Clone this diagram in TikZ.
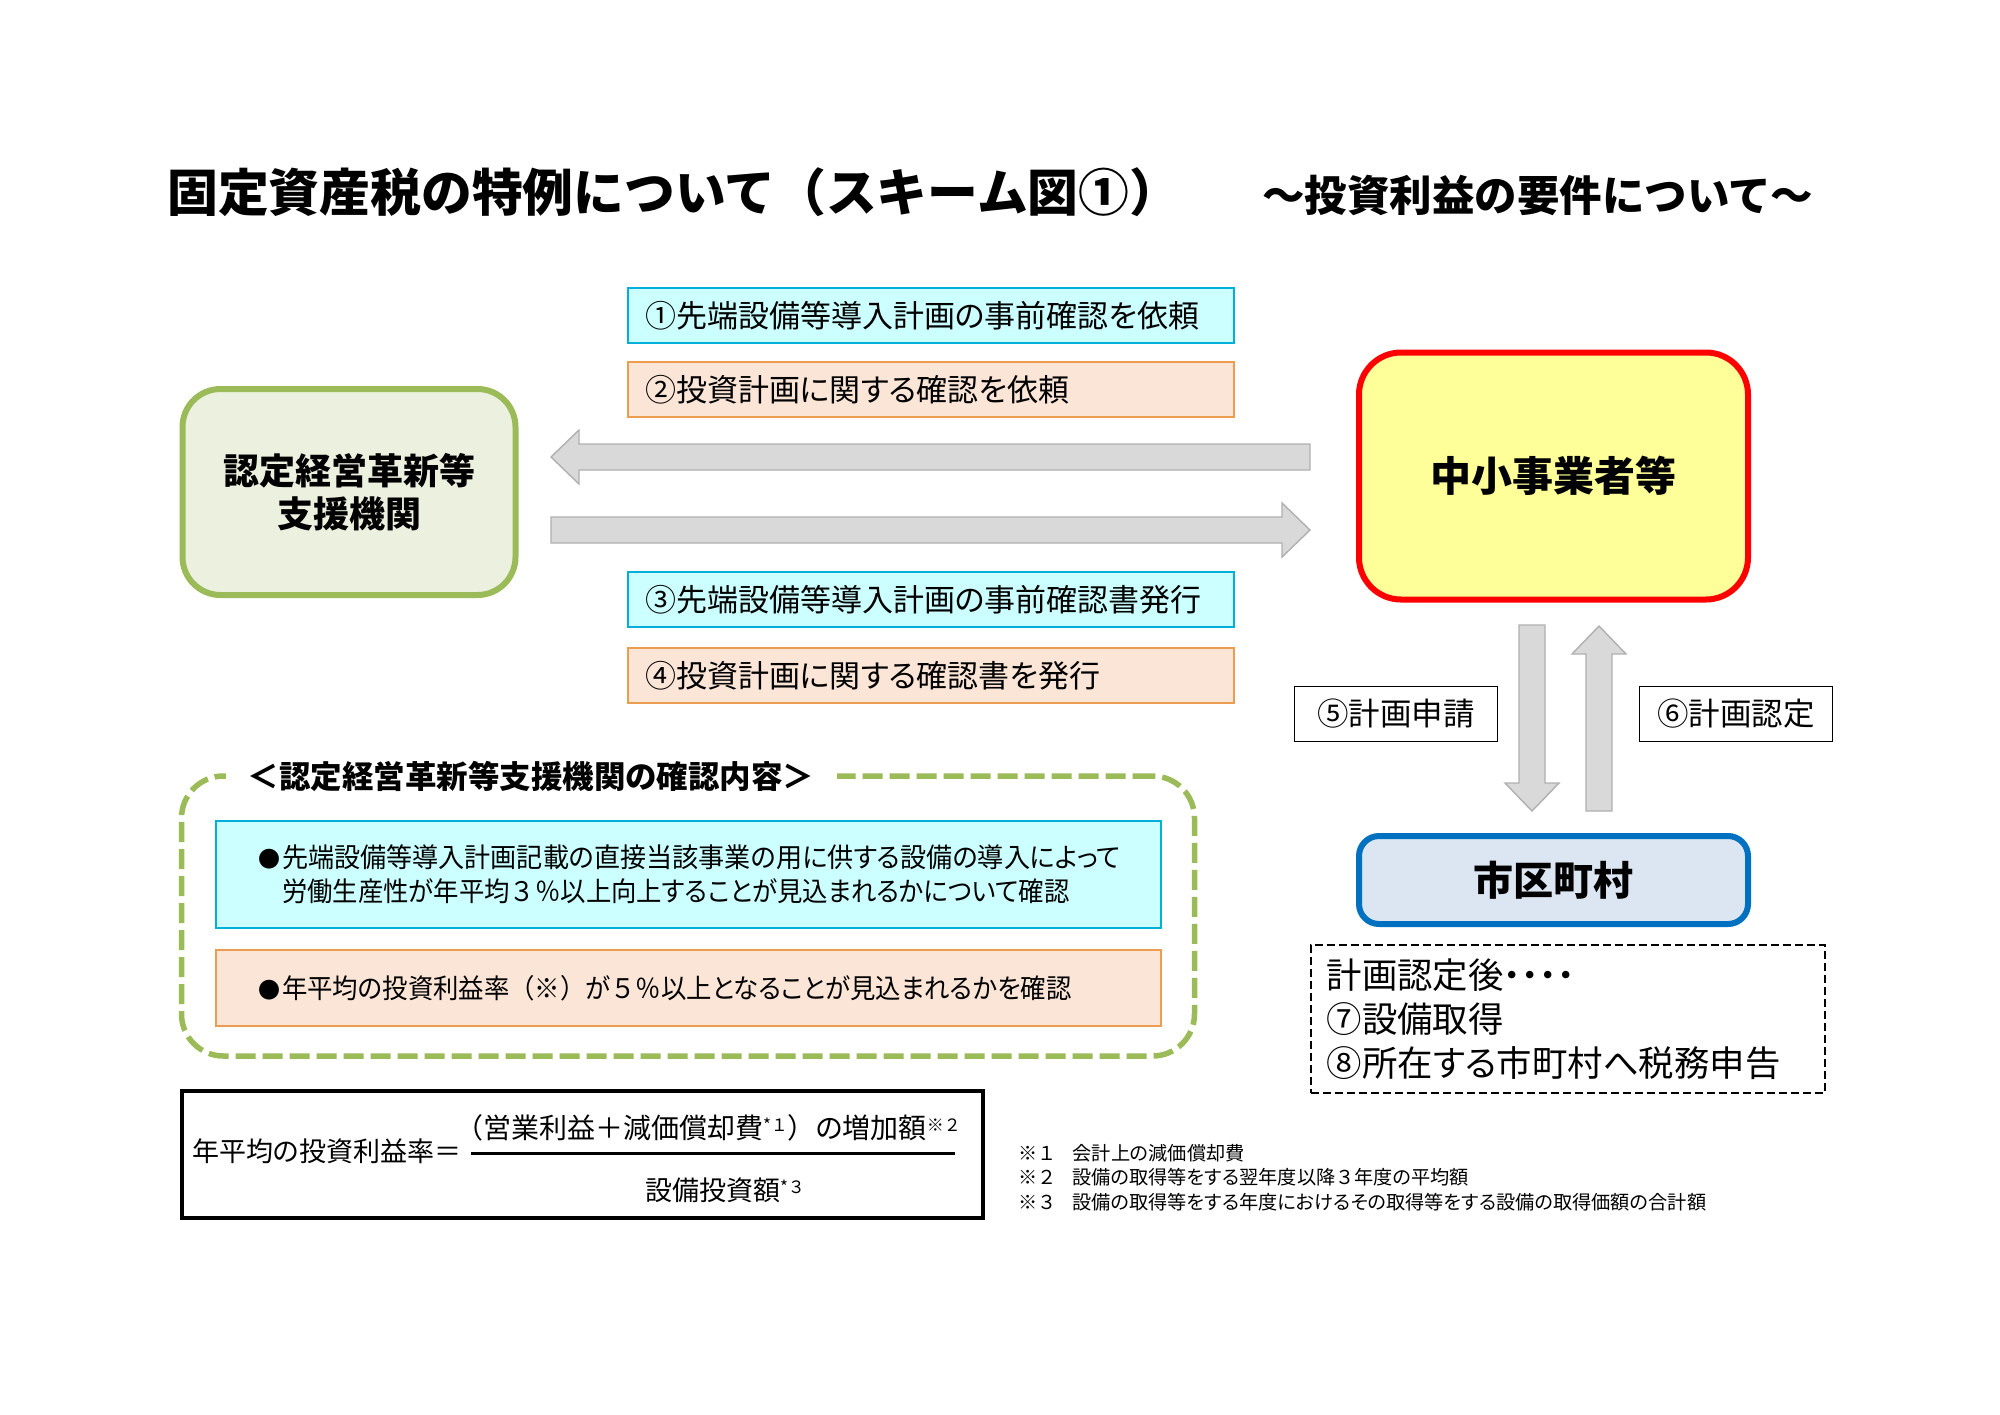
\documentclass[tikz,border=0pt]{standalone}
\usepackage{fontspec}
\setmainfont{Noto Sans CJK JP}[RawFeature=+palt]
\newfontfamily\zenfont{Noto Sans CJK JP}
\usepackage{tikz}
\usetikzlibrary{calc}
\definecolor{kikanfill}{HTML}{EBF1DE}
\definecolor{kikanline}{HTML}{9BBB59}
\definecolor{jigyofill}{HTML}{FFFF99}
\definecolor{cityfill}{HTML}{DCE6F2}
\definecolor{cityline}{HTML}{0070C0}
\definecolor{bluefill}{HTML}{CCFFFF}
\definecolor{blueline}{HTML}{00B0D8}
\definecolor{orangefill}{HTML}{FBE5D6}
\definecolor{orangeline}{HTML}{ED9D4F}
\definecolor{arrowfill}{HTML}{D9D9D9}
\definecolor{arrowline}{HTML}{B0B0B0}
\newcommand{\zen}[1]{{\zenfont #1}}
\newcommand{\fnmark}[1]{\raisebox{7pt}{\fontsize{17}{17}\selectfont\zenfont #1}}
\newcommand{\dotmark}{\makebox[24pt][l]{\fontsize{22}{22}\selectfont ●}}
\tikzstyle{bigtitle} = [anchor=west, inner sep=0pt, font=\fontsize{50.8}{58}\selectfont\bfseries\zenfont]
\tikzstyle{subtitle} = [anchor=west, inner sep=0pt, font=\fontsize{42.5}{50}\selectfont\bfseries\zenfont]
\tikzstyle{bluestep} = [rectangle, draw=blueline, fill=bluefill, line width=2pt, anchor=north west, minimum width=606pt, minimum height=55pt, text width=572pt, inner xsep=17pt, inner ysep=0pt, align=left, font=\fontsize{31}{38}\selectfont]
\tikzstyle{orangestep} = [bluestep, draw=orangeline, fill=orangefill]
\tikzstyle{actor} = [rectangle, rounded corners=38pt, line width=6pt, align=center, font=\fontsize{36}{43}\selectfont\bfseries]
\tikzstyle{plain} = [rectangle, draw, line width=1.5pt, minimum height=55pt, inner sep=0pt, font=\fontsize{31.5}{38}\selectfont]
\tikzstyle{content} = [rectangle, line width=2pt, anchor=north west, minimum width=945pt, inner xsep=42pt, inner ysep=0pt, text width=861pt, align=left, font=\fontsize{27}{34}\selectfont]
\tikzstyle{formula} = [inner sep=0pt, font=\fontsize{27}{34}\selectfont]
\tikzstyle{note} = [anchor=west, inner sep=0pt, font=\fontsize{19.2}{24}\selectfont]
\tikzstyle{blockarrow} = [draw=arrowline, fill=arrowfill, line width=1.4pt, to path={
    ($(\tikztostart)!13pt!90:(\tikztotarget)$)
    -- ($(\tikztotarget)!28pt!(\tikztostart)!13pt!90:(\tikztotarget)$)
    -- ($(\tikztotarget)!28pt!(\tikztostart)!27pt!90:(\tikztotarget)$)
    -- (\tikztotarget)
    -- ($(\tikztotarget)!28pt!(\tikztostart)!27pt!-90:(\tikztotarget)$)
    -- ($(\tikztotarget)!28pt!(\tikztostart)!13pt!-90:(\tikztotarget)$)
    -- ($(\tikztostart)!13pt!-90:(\tikztotarget)$) -- cycle}]

\begin{document}
\begin{tikzpicture}[x=1pt, y=-1pt]
    \useasboundingbox[fill=white] (0,0) rectangle (2000,1414);
    \node[bigtitle] (title) at (167,192) {固定資産税の特例について（スキーム図①）};
    \node[subtitle] (subtitle) at (1262,195) {～投資利益の要件について～};

    \node[actor, draw=kikanline, fill=kikanfill, minimum width=333pt, minimum height=206pt] (kikan) at (349,492) {認定経営革新等\\支援機関};
    \node[actor, draw=red, fill=jigyofill, minimum width=389pt, minimum height=247pt, rounded corners=42pt, font=\fontsize{41}{50}\selectfont\bfseries] (jigyo) at (1553.5,476) {中小事業者等};
    \node[actor, draw=cityline, fill=cityfill, minimum width=389pt, minimum height=88pt, rounded corners=20pt, font=\fontsize{40}{48}\selectfont\bfseries] (city) at (1553.5,880) {市区町村};

    \node[bluestep] (step1) at (627,287) {①先端設備等導入計画の事前確認を依頼};
    \node[orangestep] (step2) at (627,361) {②投資計画に関する確認を依頼};
    \node[bluestep] (step3) at (627,571) {③先端設備等導入計画の事前確認書発行};
    \node[orangestep] (step4) at (627,647) {④投資計画に関する確認書を発行};

    % block arrows
    \coordinate (reqstart) at (1310,457);
    \coordinate (reqend) at (551,457);
    \coordinate (issuestart) at (551,530);
    \coordinate (issueend) at (1310,530);
    \coordinate (applystart) at (1532,625);
    \coordinate (applyend) at (1532,811);
    \coordinate (approvestart) at (1599,811);
    \coordinate (approveend) at (1599,626);
    \draw[blockarrow] (reqstart) to (reqend);
    \draw[blockarrow] (issuestart) to (issueend);
    \draw[blockarrow] (applystart) to (applyend);
    \draw[blockarrow] (approvestart) to (approveend);

    \node[plain, minimum width=203pt] (apply) at (1396,714) {⑤計画申請};
    \node[plain, minimum width=193pt] (approve) at (1736,714) {⑥計画認定};

    \node[rectangle, draw, dashed, dash pattern=on 8pt off 4pt, line width=1.5pt, anchor=north west, minimum width=514pt, minimum height=148pt, text width=482pt, inner xsep=16pt, inner ysep=0pt, align=left, font=\fontsize{35.4}{44}\selectfont] (after) at (1310,944) {計画認定後・・・・\\⑦設備取得\\⑧所在する市町村へ税務申告};

    % confirmation frame
    \node[rectangle, draw=kikanline, rounded corners=42pt, line width=5.5pt, dash pattern=on 20pt off 7pt, minimum width=1013pt, minimum height=280pt] (frame) at (688,916) {};
    \node[fill=white, minimum width=611pt, inner ysep=2pt, inner xsep=0pt, font=\fontsize{31.5}{38}\selectfont\bfseries] (frametitle) at (531,776) {＜認定経営革新等支援機関の確認内容＞};
    \node[content, draw=blueline, fill=bluefill, minimum height=107pt] (check1) at (215,820) {\dotmark\scalebox{0.967}[1]{先端設備等導入計画記載の直接当該事業の用に供する設備の導入によって}\\\hspace*{24pt}\scalebox{0.94}[1]{労働生産性が年平均\zen{３％}以上向上することが見込まれるかについて確認}};
    \node[content, draw=orangeline, fill=orangefill, minimum height=76pt] (check2) at (215,949) {\dotmark\scalebox{0.94}[1]{年平均の投資利益率\zen{（※）}が\zen{５％}以上となることが見込まれるかを確認}};

    % formula
    \node[rectangle, draw, line width=3.5pt, minimum width=801pt, minimum height=127pt] (formulabox) at (582.5,1154.5) {};
    \node[formula, anchor=west] (lhs) at (192,1151) {年平均の投資利益率＝};
    \node[formula, font=\fontsize{28}{34}\selectfont] (numer) at (708,1128) {\zen{（}営業利益＋減価償却費\fnmark{*１}\zen{）}の増加額\fnmark{※２}};
    \node[formula] (denom) at (725,1190) {設備投資額\fnmark{*３}};
    \coordinate (barstart) at (471,1153);
    \coordinate (barend) at (955,1153);
    \draw[line width=3pt] (barstart) -- (barend);

    \node[note] (note1) at (1018,1153) {\zen{※１}\hspace{16pt}会計上の減価償却費};
    \node[note] (note2) at (1018,1177) {\zen{※２}\hspace{16pt}設備の取得等をする翌年度以降\zen{３}年度の平均額};
    \node[note] (note3) at (1018,1202) {\zen{※３}\hspace{16pt}設備の取得等をする年度におけるその取得等をする設備の取得価額の合計額};
\end{tikzpicture}
\end{document}
